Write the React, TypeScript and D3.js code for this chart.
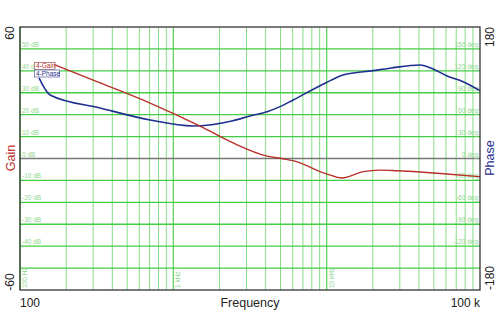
import React from "react";
import * as d3 from "d3";

const gainFreq = [169, 333, 705, 1494, 2450, 4085, 5196, 6037, 10066, 12596, 17270, 22290, 28780, 47230, 60950, 100000];
const gainDb = [42.7, 34.5, 25.3, 14.8, 7.1, 1.1, -0.1, -1.0, -7.1, -8.9, -6.0, -5.3, -5.6, -6.5, -7.1, -8.3];

const phaseFreq = [133, 157, 333, 705, 1345, 2450, 3166, 4085, 4966, 6037, 9765, 12800, 20090, 25930, 40640, 49410, 60950, 77600, 100000];
const phaseDeg = [110.3, 87, 69.2, 52.7, 44.5, 51.8, 58.2, 64.1, 71, 80.1, 103, 114.4, 120.3, 123.6, 128, 122.6, 113, 105.2, 92.9];

const dbTicks = [50, 40, 30, 20, 10, 0, -10, -20, -30, -40];
const degTicks = [150, 120, 90, 60, 30, 0, -30, -60, -90, -120];
const gridDb = [-50, -40, -30, -20, -10, 10, 20, 30, 40, 50];
const decades = [100, 1000, 10000];
const decadeLabels = ["100 Hz", "1 kHz", "10 kHz"];

const X0 = 20, X1 = 480, Y0 = 27, Y1 = 290;
const FONT = "Liberation Sans, Arial, sans-serif";

export default function App() {
  const x = d3.scaleLog().domain([100, 100000]).range([X0, X1]);
  const yG = d3.scaleLinear().domain([-60, 60]).range([Y1, Y0]);
  const yP = d3.scaleLinear().domain([-180, 180]).range([Y1, Y0]);

  const gainLine = d3.line<number>().x((_, i) => x(gainFreq[i])).y((d) => yG(d)).curve(d3.curveMonotoneX)(gainDb) || "";
  const phaseLine = d3.line<number>().x((_, i) => x(phaseFreq[i])).y((d) => yP(d)).curve(d3.curveMonotoneX)(phaseDeg) || "";

  const vlines: { f: number; major: boolean }[] = [];
  decades.forEach((d) => {
    for (let k = 1; k <= 9; k++) vlines.push({ f: d * k, major: k === 1 });
  });

  const gx0 = x(gainFreq[0]);

  return (
    <svg width={500} height={318} style={{ position: "absolute", left: 0, top: 0, background: "#fff" }} fontFamily={FONT}>
      <rect x={0} y={0} width={500} height={318} fill="#fff" />
      {vlines.map((v, i) => (
        <line key={"v" + i} x1={x(v.f)} x2={x(v.f)} y1={Y0} y2={Y1} stroke={v.major ? "#5fd35f" : "#86dd86"} strokeWidth={v.major ? 1.3 : 1} />
      ))}
      {gridDb.map((g) => (
        <line key={"h" + g} x1={X0} x2={X1} y1={yG(g)} y2={yG(g)} stroke="#45cc45" strokeWidth={1.3} />
      ))}
      <line x1={X0} x2={X1} y1={yG(0)} y2={yG(0)} stroke="#777" strokeWidth={1.6} />
      {dbTicks.map((t) => (
        <text key={"db" + t} x={X0 + 2} y={yG(t) - 2} fontSize={6.5} fill="#8fd68f">{t === 40 ? "40 d" : `${t} dB`}</text>
      ))}
      {degTicks.map((t) => (
        <text key={"dg" + t} x={X1 - 2} y={yP(t) - 2} fontSize={6.5} fill="#8fd68f" textAnchor="end">{t} deg</text>
      ))}
      {decades.map((d, i) => (
        <text key={"dl" + d} transform={`translate(${x(d) + 7},${Y1 - 2}) rotate(-90)`} fontSize={6.5} fill="#8fd68f">{decadeLabels[i]}</text>
      ))}
      <path d={phaseLine} fill="none" stroke="#1f2f8f" strokeWidth={1.6} />
      <path d={gainLine} fill="none" stroke="#b8302a" strokeWidth={1.4} />
      <rect x={X0} y={Y0} width={X1 - X0} height={Y1 - Y0} fill="none" stroke="#333" strokeWidth={1.3} />
      {/* legend */}
      <rect x={34.5} y={62.5} width={gx0 - 34.5} height={6.8} fill="#fff" stroke="#a05050" strokeWidth={0.7} />
      <text x={36} y={68} fontSize={6.5} fill="#b8302a">4-Gain</text>
      <rect x={34.5} y={70} width={25} height={7} fill="#fff" stroke="#5060a0" strokeWidth={0.7} />
      <text x={36} y={75.6} fontSize={6.5} fill="#1f2f8f">4-Phase</text>
      {/* axis labels */}
      <text transform="translate(14,33) rotate(-90)" fontSize={12} textAnchor="middle" fill="#222">60</text>
      <text transform="translate(14,282) rotate(-90)" fontSize={12} textAnchor="middle" fill="#222">-60</text>
      <text transform="translate(15,158) rotate(-90)" fontSize={12.5} textAnchor="middle" fill="#b8302a">Gain</text>
      <text transform="translate(494,37) rotate(-90)" fontSize={12} textAnchor="middle" fill="#222">180</text>
      <text transform="translate(494,278) rotate(-90)" fontSize={12} textAnchor="middle" fill="#222">-180</text>
      <text transform="translate(494,158) rotate(-90)" fontSize={12.5} textAnchor="middle" fill="#1f2f8f">Phase</text>
      <text x={20} y={307} fontSize={12} fill="#222">100</text>
      <text x={480} y={307} fontSize={12} fill="#222" textAnchor="end">100 k</text>
      <text x={250} y={307} fontSize={12.5} fill="#222" textAnchor="middle">Frequency</text>
    </svg>
  );
}
